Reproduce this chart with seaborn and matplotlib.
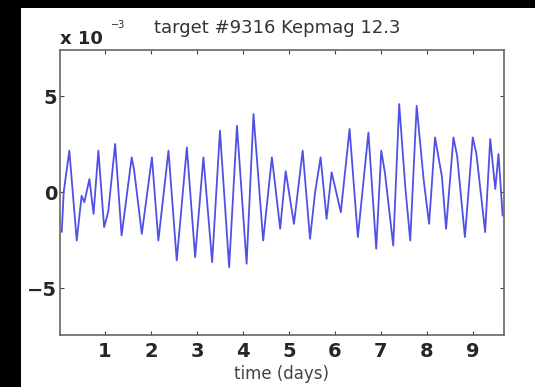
import matplotlib
matplotlib.use("Agg")
import matplotlib.pyplot as plt
from matplotlib.patches import Rectangle
import numpy as np
import pandas as pd
import seaborn as sns

# time (days) and relative flux (units of 1e-3)
time_days = [0.058, 0.10, 0.223, 0.384, 0.49, 0.55, 0.66, 0.75, 0.855, 0.98, 1.07,
             1.22, 1.36, 1.58, 1.63, 1.80, 2.02, 2.16, 2.38, 2.56, 2.78, 2.96,
             3.14, 3.33, 3.50, 3.70, 3.87, 4.08, 4.23, 4.44, 4.63, 4.70, 4.81,
             4.93, 5.11, 5.30, 5.46, 5.57, 5.69, 5.82, 5.93, 6.13, 6.32, 6.50,
             6.73, 6.90, 7.01, 7.09, 7.27, 7.40, 7.53, 7.64, 7.78, 7.93, 8.05,
             8.18, 8.33, 8.42, 8.58, 8.66, 8.83, 9.00, 9.08, 9.27, 9.38, 9.49,
             9.56, 9.65]
flux = [-2.07, 0.0, 2.17, -2.52, -0.18, -0.52, 0.69, -1.13, 2.17, -1.82, -1.0,
        2.52, -2.26, 1.82, 1.2, -2.17, 1.82, -2.52, 2.17, -3.56, 2.34, -3.39,
        1.82, -3.65, 3.21, -3.91, 3.47, -3.73, 4.08, -2.52, 1.82, 0.4, -1.91,
        1.10, -1.65, 2.17, -2.43, 0.0, 1.82, -1.39, 1.04, -1.04, 3.30, -2.34,
        3.12, -2.95, 2.17, 1.0, -2.78, 4.60, 0.34, -2.52, 4.51, 0.69, -1.65,
        2.86, 0.8, -1.91, 2.86, 1.9, -2.34, 2.86, 2.0, -2.08, 2.78, 0.17,
        2.0, -1.22]

x_ticks = [1, 2, 3, 4, 5, 6, 7, 8, 9]
y_ticks = [-5, 0, 5]
title_text = "target #9316 Kepmag 12.3"
x_label = "time (days)"

df = pd.DataFrame({"t": time_days, "f": flux})

sns.set_theme(style="white")
plt.rcParams["font.family"] = ["DejaVu Sans"]

fig = plt.figure(figsize=(5.35, 3.87), dpi=100)
fig.patch.set_facecolor("white")
# black strips on top and left edges
fig.patches.append(Rectangle((0, 0), 20.5 / 535, 1, transform=fig.transFigure,
                             facecolor="black", edgecolor="none", zorder=-10))
fig.patches.append(Rectangle((0, 1 - 8 / 387), 1, 8 / 387, transform=fig.transFigure,
                             facecolor="black", edgecolor="none", zorder=-10))

ax = fig.add_axes([60 / 535, 1 - 335 / 387, (504 - 60) / 535, (335 - 49.5) / 387])
sns.lineplot(data=df, x="t", y="f", ax=ax, color="#5050e6", linewidth=1.3,
             sort=False, estimator=None, solid_joinstyle="round")

ax.set_xlim(0.02, 9.68)
ax.set_ylim(-7.45, 7.45)
ax.set_xticks(x_ticks)
ax.set_yticks(y_ticks)
ax.set_xticklabels([str(v) for v in x_ticks], fontsize=14, fontweight="bold")
ax.set_yticklabels(["\u22125" if v < 0 else str(v) for v in y_ticks], fontsize=14,
                   fontweight="bold")
ax.tick_params(axis="both", direction="in", length=3, width=0.8, color="#444444",
               top=True, right=True, bottom=True, left=True)
ax.tick_params(axis="x", pad=5)
ax.tick_params(axis="y", pad=2)
for s in ax.spines.values():
    s.set_color("#666666")
    s.set_linewidth(1.2)
    s.set_visible(True)

ax.set_xlabel(x_label, fontsize=12, color="#444444", labelpad=3)
ax.set_ylabel("")
ax.set_title(title_text, fontsize=13, color="#333333", pad=12, x=0.49)
ax.text(0.0, 1.005, "x 10", transform=ax.transAxes, fontsize=13, fontweight="bold",
        ha="left", va="bottom")
ax.text(0.115, 1.07, "\u22123", transform=ax.transAxes, fontsize=7,
        ha="left", va="bottom")

fig.savefig("out.png", dpi=100, facecolor=fig.get_facecolor())
